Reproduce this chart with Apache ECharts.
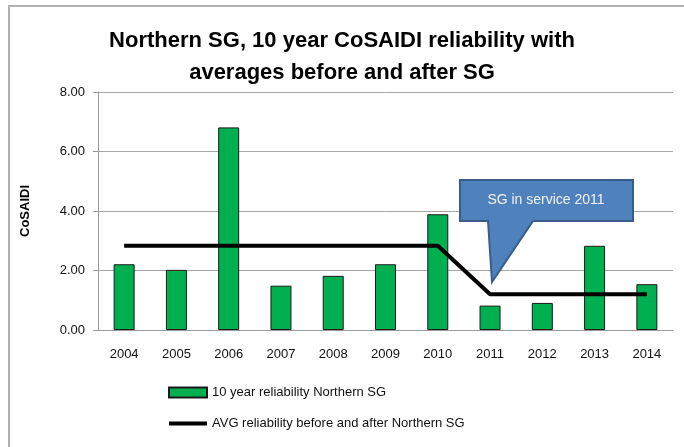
<!DOCTYPE html>
<html>
<head>
<meta charset="utf-8">
<script src="https://cdn.jsdelivr.net/npm/echarts@6/dist/echarts.min.js"></script>
<style>
html, body { margin: 0; padding: 0; background: #fff; }
#main { width: 684px; height: 447px; }
</style>
</head>
<body>
<div id="main"></div>
<script>
// data
var years = ['2004','2005','2006','2007','2008','2009','2010','2011','2012','2013','2014'];
var reliability = [2.21, 2.02, 6.81, 1.49, 1.82, 2.21, 3.89, 0.82, 0.91, 2.83, 1.54];
var avgLine = [2.83, 2.83, 2.83, 2.83, 2.83, 2.83, 2.83, 1.20, 1.20, 1.20, 1.20];
var yTicks = [0, 2, 4, 6, 8];

var barName = '10 year reliability Northern SG';
var lineName = 'AVG reliability before and after Northern SG';

var chart = echarts.init(document.getElementById('main'));

var option = {
	backgroundColor: '#fff',
	animation: false,
	textStyle: {
		fontFamily: "'Liberation Sans', Arial, sans-serif"
	},
	title: {
		text: 'Northern SG, 10 year CoSAIDI reliability with\naverages before and after SG',
		left: 'center',
		top: 20,
		textStyle: {
			fontSize: 22,
			fontWeight: 'bold',
			color: '#000',
			lineHeight: 32
		}
	},
	grid: {
		left: 98,
		right: 11,
		top: 92,
		bottom: 117
	},
	legend: {
		orient: 'vertical',
		left: 162,
		top: 381,
		itemWidth: 38,
		itemHeight: 10,
		itemGap: 18,
		textStyle: {
			fontSize: 13,
			color: '#111'
		},
		data: [
			{ name: barName, icon: 'rect' },
			{
				name: lineName,
				itemStyle: { opacity: 0 },
				lineStyle: { width: 4, color: '#000' }
			}
		]
	},
	xAxis: {
		type: 'category',
		data: years,
		axisLine: { lineStyle: { color: '#999', width: 1 } },
		axisTick: { show: false },
		axisLabel: { color: '#111', fontSize: 13, margin: 18 }
	},
	yAxis: {
		type: 'value',
		min: yTicks[0],
		max: yTicks[yTicks.length - 1],
		interval: 2,
		name: 'CoSAIDI',
		nameLocation: 'middle',
		nameGap: 66,
		nameTextStyle: { fontSize: 13, fontWeight: 'bold', color: '#000' },
		axisLine: { show: true, lineStyle: { color: '#999' } },
		axisTick: { show: true, length: 5, lineStyle: { color: '#999' } },
		axisLabel: {
			color: '#111',
			fontSize: 13,
			margin: 13,
			formatter: function (v) { return v.toFixed(2); }
		},
		splitLine: { lineStyle: { color: '#a6a6a6' } }
	},
	series: [
		{
			name: barName,
			type: 'bar',
			data: reliability,
			barWidth: 21,
			itemStyle: {
				color: '#00b050',
				borderColor: '#1a1a1a',
				borderWidth: 1
			}
		},
		{
			name: lineName,
			type: 'line',
			data: avgLine,
			symbol: 'none',
			z: 5,
			lineStyle: { color: '#000', width: 4 },
			itemStyle: { color: '#000' }
		}
	],
	graphic: [
		// outer frame (top and left edges)
		{
			type: 'polyline',
			silent: true,
			shape: { points: [[9, 447], [9, 6], [684, 6]] },
			style: { stroke: '#b0b0b0', lineWidth: 2, fill: null }
		},
		// callout
		{
			type: 'polygon',
			silent: true,
			z: 20,
			shape: {
				points: [[460, 180], [633, 180], [633, 221], [533, 221], [492, 282], [488, 221], [460, 221]]
			},
			style: { fill: '#4f81bd', stroke: '#385d8a', lineWidth: 2 }
		},
		{
			type: 'text',
			silent: true,
			z: 21,
			x: 546,
			y: 200,
			style: {
				text: 'SG in service 2011',
				fill: '#f2f2f2',
				fontSize: 14,
				fontFamily: "'Liberation Sans', Arial, sans-serif",
				align: 'center',
				verticalAlign: 'middle'
			}
		}
	]
};

chart.setOption(option);

window.onresize = function () {
	chart.resize();
};
</script>
</body>
</html>
